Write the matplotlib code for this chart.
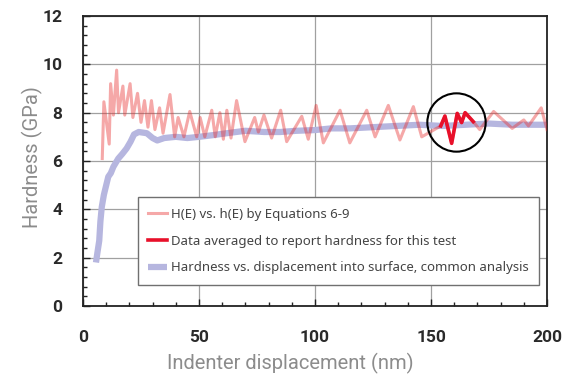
import matplotlib.pyplot as plt
import numpy as np
from matplotlib.ticker import MultipleLocator

# H(E) vs h(E) (peaks and troughs)
pink_x = [8.3, 9.0, 11.3, 11.9, 13.1, 14.5, 15.3, 17.2, 18.0, 20.3, 21.5, 23.5, 25.0,
          26.5, 28.0, 29.5, 31.0, 33.0, 34.5, 37.5, 39.5, 41.0, 43.5, 46.0, 49.0, 50.5,
          52.5, 55.5, 57.0, 59.0, 60.5, 62.0, 63.8, 66.2, 69.8, 74.0, 75.6, 78.0, 81.3,
          85.2, 87.8, 94.3, 97.1, 100.5, 103.6, 110.8, 115.0, 122.3, 125.9, 131.6, 136.6,
          142.4, 146.0, 154.2, 156.0, 158.9, 161.3, 163.2, 164.7, 168.2, 171.0, 177.0,
          185.0, 190.0, 192.0, 197.5, 200.0]
pink_y = [6.1, 8.45, 6.7, 9.2, 7.9, 9.76, 8.0, 9.1, 7.9, 9.2, 7.8, 8.8, 7.6,
          8.5, 7.4, 8.5, 7.3, 8.2, 7.15, 8.75, 7.0, 7.8, 7.0, 8.05, 7.0, 7.8,
          7.0, 8.1, 7.0, 8.0, 6.9, 8.1, 6.95, 8.5, 6.8, 7.8, 7.2, 7.9, 6.95,
          8.1, 6.8, 7.85, 6.9, 8.3, 6.75, 8.1, 6.75, 8.1, 7.0, 8.3, 6.87,
          8.25, 7.0, 7.45, 7.86, 6.73, 7.97, 7.59, 8.0, 7.63, 7.3, 8.05,
          7.35, 7.7, 7.45, 8.2, 7.3]

# data averaged for the reported hardness
red_x = [154.2, 156.0, 158.9, 161.3, 163.2, 164.7, 168.2]
red_y = [7.45, 7.86, 6.73, 7.97, 7.59, 8.0, 7.63]

# common analysis
blue_x = [5.6, 6.2, 7.0, 7.5, 8.1, 9.0, 9.5, 10.9, 12.0, 13.1, 15.2, 17.0, 18.8, 20.5,
          22.0, 24.0, 27.5, 30.0, 32.0, 35.0, 40.0, 45.0, 50.0, 56.0, 62.0, 70.0, 78.0,
          85.0, 92.0, 100.0, 107.0, 115.0, 125.0, 135.0, 145.0, 155.0, 165.0, 175.0,
          185.0, 200.0]
blue_y = [1.8, 2.2, 2.7, 3.5, 4.1, 4.6, 4.8, 5.35, 5.5, 5.76, 6.1, 6.3, 6.52, 6.8,
          7.1, 7.2, 7.15, 6.95, 6.85, 6.95, 7.0, 6.95, 7.0, 7.07, 7.15, 7.25, 7.2,
          7.2, 7.25, 7.28, 7.35, 7.35, 7.4, 7.45, 7.5, 7.45, 7.5, 7.55, 7.5, 7.5]

labels = ['H(E) vs. h(E) by Equations 6-9',
          'Data averaged to report hardness for this test',
          'Hardness vs. displacement into surface, common analysis']

fig = plt.figure(figsize=(5.72, 3.74), dpi=100)
ax = fig.add_axes([83/572, 1-306/374, 464/572, 290/374])

ax.plot(blue_x, blue_y, color='#b6b6df', lw=4.5, solid_capstyle='butt', label=labels[2], zorder=2)
ax.plot(pink_x, pink_y, color='#e83030', alpha=0.42, lw=2.2, label=labels[0], zorder=3)
ax.plot(red_x, red_y, color='#e8102a', lw=2.6, label=labels[1], zorder=4)

# circle round the averaged data
cx = np.mean(red_x)
cy = np.mean(red_y)
ax.plot([cx], [cy], 'o', ms=42, mfc='none', mec='black', mew=1.5, zorder=5)

ax.set_xlim(0, 200)
ax.set_ylim(0, 12)
ax.xaxis.set_major_locator(MultipleLocator(50))
ax.xaxis.set_minor_locator(MultipleLocator(10))
ax.yaxis.set_major_locator(MultipleLocator(2))
ax.yaxis.set_minor_locator(MultipleLocator(0.4))
ax.grid(True, which='major', color='#a0a0a0', lw=0.9)
ax.set_axisbelow(True)
ax.tick_params(which='both', direction='in', top=False, right=False, width=1, color='#222222')
ax.tick_params(which='major', length=5)
ax.tick_params(which='minor', length=3)
ax.tick_params(axis='x', pad=17)
ax.tick_params(axis='y', pad=15)
for s in ax.spines.values():
    s.set_linewidth(1.3)
    s.set_color('#222222')

for t in ax.get_xticklabels() + ax.get_yticklabels():
    t.set_fontfamily(['Roboto', 'DejaVu Sans'])
    t.set_fontweight('bold')
    t.set_fontsize(12.5)
    t.set_color('#2a2a2a')

fig.text(290/572, 1-363/374, 'Indenter displacement (nm)', ha='center', va='center',
         fontsize=14.5, color='#8c8c8c', family='Roboto')
fig.text(32/572, 1-157/374, 'Hardness (GPa)', ha='center', va='center', rotation=90,
         fontsize=14.5, color='#8c8c8c', family='Roboto')

h, l = ax.get_legend_handles_labels()
order = [1, 2, 0]
leg = ax.legend([h[i] for i in order], [l[i] for i in order],
                loc='lower right', bbox_to_anchor=((539-83)/464, (306-285)/290),
                fancybox=False, edgecolor='#707070', framealpha=1,
                prop={'family': 'Noto Sans', 'size': 9.5},
                handlelength=1.45, handletextpad=0.25, labelspacing=1.05,
                borderpad=0.8, borderaxespad=0)
leg.get_frame().set_linewidth(1.0)
for t in leg.get_texts():
    t.set_color('#444444')

fig.savefig('out.png', dpi=100)
